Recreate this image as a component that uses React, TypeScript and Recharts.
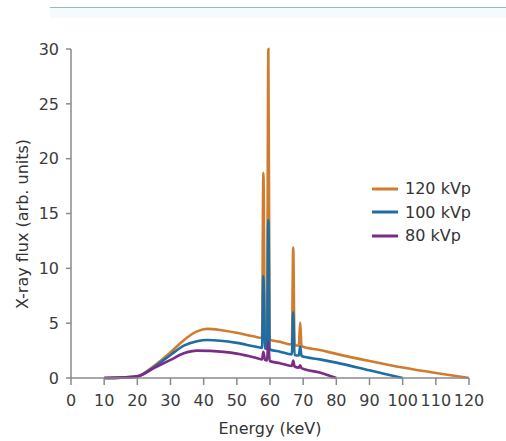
import { Line, LineChart, XAxis, YAxis } from "recharts";

// spectra (energy in keV, flux in arb. units)
const energies120 = [10, 15, 20, 25, 30, 34, 38, 41, 45, 50, 55, 57.6, 58.0, 58.5, 59.1, 59.5, 59.9, 63, 66.6, 67.0, 67.4, 68.7, 69.1, 69.5, 75, 80, 90, 100, 110, 120];
const flux120 = [0, 0.03, 0.15, 1.1, 2.35, 3.45, 4.25, 4.48, 4.38, 4.12, 3.8, 3.65, 18.7, 3.6, 3.55, 30, 3.5, 3.3, 3.05, 11.9, 3.0, 2.95, 5.05, 2.9, 2.55, 2.2, 1.55, 0.95, 0.45, 0];

const energies100 = [10, 15, 20, 25, 30, 34, 38, 41, 45, 50, 55, 57.6, 58.0, 58.5, 59.1, 59.5, 59.9, 63, 66.6, 67.0, 67.4, 68.7, 69.1, 69.5, 75, 80, 90, 100];
const flux100 = [0, 0.03, 0.15, 1.0, 2.1, 2.95, 3.35, 3.46, 3.4, 3.2, 2.9, 2.75, 9.3, 2.7, 2.65, 14.4, 2.6, 2.4, 2.15, 6.0, 2.1, 2.05, 2.9, 2.0, 1.7, 1.4, 0.7, 0];

const energies80 = [10, 15, 20, 25, 30, 34, 38, 42, 46, 50, 55, 57.6, 58.0, 58.5, 59.1, 59.5, 59.9, 63, 66.6, 67.0, 67.4, 68.7, 69.1, 69.5, 75, 80];
const flux80 = [0, 0.03, 0.15, 0.9, 1.65, 2.25, 2.5, 2.47, 2.38, 2.22, 1.9, 1.7, 2.4, 1.65, 1.6, 3.3, 1.55, 1.35, 1.1, 1.6, 1.05, 0.95, 1.15, 0.9, 0.5, 0];

const xTicks = [0, 10, 20, 30, 40, 50, 60, 70, 80, 90, 100, 110, 120];
const yTicks = [0, 5, 10, 15, 20, 25, 30];

const seriesNames = ["120 kVp", "100 kVp", "80 kVp"];
const colors = ["#d07c2e", "#1d6ea6", "#7b2c88"];

const toPoints = (energies: number[], flux: number[]) =>
  energies.map((energy, i) => ({ energy, flux: flux[i] }));

const FONT = "'DejaVu Sans', sans-serif";

function SpectrumLegend() {
  return (
    <div style={{ position: "absolute", left: 372, top: 177, fontFamily: FONT, fontSize: 16, color: "#333" }}>
      {seriesNames.map((name, i) => (
        <div key={name} style={{ display: "flex", alignItems: "center", height: 23.5 }}>
          <svg width={26} height={4} style={{ marginRight: 7 }}>
            <line x1={0} y1={2} x2={26} y2={2} stroke={colors[i]} strokeWidth={3} />
          </svg>
          <span>{name}</span>
        </div>
      ))}
    </div>
  );
}

export default function App() {
  const series = [
    toPoints(energies120, flux120),
    toPoints(energies100, flux100),
    toPoints(energies80, flux80),
  ];
  const tickStyle = { fontFamily: FONT, fontSize: 16, fill: "#3c3c3c" };

  return (
    <div style={{ position: "absolute", left: 0, top: 0, width: 506, height: 441, background: "#fff" }}>
      <div style={{ position: "absolute", left: 50, top: 7, width: 456, height: 1, background: "#9db6be" }} />
      <div style={{ position: "absolute", left: 50, top: 8, width: 456, height: 10, background: "#f5fafc" }} />
      <LineChart width={506} height={441} margin={{ top: 49, right: 37, bottom: 33, left: 11 }}>
        <XAxis
          dataKey="energy"
          type="number"
          domain={[0, 120]}
          ticks={xTicks}
          height={30}
          tickSize={7}
          tickMargin={10}
          tick={tickStyle}
          stroke="#8a8a8a"
          strokeWidth={1.5}
          allowDataOverflow
        />
        <YAxis
          type="number"
          domain={[0, 30]}
          ticks={yTicks}
          width={60}
          tickSize={5}
          tickMargin={7}
          tick={tickStyle}
          stroke="#8a8a8a"
          strokeWidth={1.5}
        />
        {series.map((points, i) => (
          <Line
            key={seriesNames[i]}
            data={points}
            dataKey="flux"
            name={seriesNames[i]}
            type="monotone"
            stroke={colors[i]}
            strokeWidth={2.6}
            dot={false}
            activeDot={false}
            isAnimationActive={false}
          />
        ))}
      </LineChart>
      <SpectrumLegend />
      <div
        style={{
          position: "absolute",
          left: 22,
          top: 224,
          transform: "translate(-50%, -50%) rotate(-90deg)",
          whiteSpace: "nowrap",
          fontFamily: FONT,
          fontSize: 16,
          color: "#333",
        }}
      >
        X-ray flux (arb. units)
      </div>
      <div
        style={{
          position: "absolute",
          left: 270,
          top: 428,
          transform: "translate(-50%, -50%)",
          whiteSpace: "nowrap",
          fontFamily: FONT,
          fontSize: 16,
          color: "#333",
        }}
      >
        Energy (keV)
      </div>
    </div>
  );
}
